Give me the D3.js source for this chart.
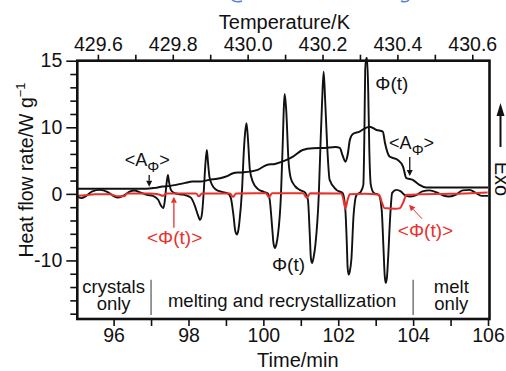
<!DOCTYPE html>
<html><head><meta charset="utf-8">
<script src="https://cdn.jsdelivr.net/npm/d3@7"></script>
<style>
html,body{margin:0;padding:0;background:#fff;}
svg{display:block;font-family:"Liberation Sans",Arial,Helvetica,sans-serif;}
</style></head><body>
<svg id="chart" width="506" height="371"></svg>
<script>
// Modulated heat flow rate Φ(t): [time/min, W g^-1]
const phi = [
  [95.03,-0.37],[95.13,-0.64],[95.27,-0.3],[95.43,0.37],[95.64,0.6],[95.83,0.3],[95.99,-0.3],[96.12,-0.55],[96.28,-0.22],[96.44,0.37],
  [96.55,0.5],[96.71,0.22],[96.89,-0.15],[97.05,-0.3],[97.19,-0.9],[97.27,-1.8],[97.33,-2.15],[97.37,-0.9],[97.41,1.35],[97.45,2.85],
  [97.48,1.8],[97.53,0.6],[97.61,0.15],[97.77,-0.07],[97.93,-0.22],[98.07,-0.6],[98.17,-1.8],[98.25,-3.15],[98.31,-3.9],[98.36,-3.0],
  [98.41,0.6],[98.45,4.35],[98.49,6.6],[98.52,4.8],[98.56,2.55],[98.63,1.35],[98.73,0.67],[98.89,0.3],[99.05,0.07],[99.13,-0.6],
  [99.20,-3.15],[99.25,-5.6],[99.29,-6.1],[99.33,-5.5],[99.36,-4.2],[99.43,0.6],[99.48,6.6],[99.52,9.6],[99.55,10.3],[99.59,8.1],
  [99.64,3.6],[99.72,1.8],[99.85,0.75],[100.01,0.3],[100.12,0.07],[100.17,-0.9],[100.24,-5.4],[100.27,-7.4],[100.31,-8.14],[100.35,-7.5],
  [100.39,-6.14],[100.47,-0.15],[100.52,8.1],[100.55,11.7],[100.57,12.5],[100.61,11.3],[100.67,5.1],[100.73,2.4],[100.84,1.2],[100.97,0.6],
  [101.11,0.22],[101.19,-0.9],[101.24,-6.14],[101.27,-9.7],[101.30,-10.38],[101.34,-9.6],[101.39,-7.64],[101.48,-0.15],[101.53,8.1],[101.57,12.05],
  [101.61,14.17],[101.65,12.05],[101.71,6.6],[101.77,2.1],[101.95,0.6],[102.12,0.1],[102.19,-2.4],[102.23,-7.64],[102.25,-11.0],[102.28,-12.14],
  [102.31,-11.6],[102.35,-9.9],[102.41,-3.15],[102.49,-0.15],[102.60,0.3],[102.67,1.35],[102.70,9.8],[102.72,14.3],[102.75,15.2],[102.77,15.2],
  [102.80,12.8],[102.83,6.6],[102.87,1.35],[102.95,0.15],[103.08,-0.15],[103.16,-2.4],[103.21,-8.4],[103.24,-12.2],[103.27,-13.38],[103.30,-12.6],
  [103.33,-9.9],[103.39,-3.15],[103.44,0.15],[103.55,0.6],[103.67,0.37],[103.77,-0.15],[103.91,-0.4],[104.07,-0.22],[104.25,0.37],[104.44,0.52],
  [104.63,0.22],[104.79,-0.22],[104.97,-0.4],[105.16,-0.07],[105.32,0.52],[105.51,0.6],[105.67,0.15],[105.83,-0.3],[106.0,-0.3]
];

// Amplitude <AΦ>
const ampPhi = [
  [95.03,0.75],[96.87,0.75],[97.11,0.9],[97.31,1.1],[97.51,1.2],[97.67,1.35],[97.91,1.65],[98.11,1.84],[98.31,1.84],[98.55,2.1],
  [98.84,2.35],[99.05,2.7],[99.19,3.1],[99.37,3.22],[99.64,3.34],[99.85,3.6],[100.09,4.35],[100.31,4.5],[100.62,5.1],[100.79,5.6],
  [101.05,6.6],[101.32,6.85],[101.64,6.9],[101.93,7.04],[102.04,6.9],[102.12,5.7],[102.19,4.84],[102.25,5.84],[102.31,8.1],[102.39,9.0],
  [102.57,9.35],[102.71,9.85],[102.84,10.05],[103.02,9.6],[103.19,9.35],[103.25,7.6],[103.37,5.6],[103.59,5.1],[103.73,4.1],[103.82,2.35],
  [103.99,2.1],[104.17,1.35],[104.35,0.95],[104.57,0.95],[106.0,0.95]
];

// Averaged heat flow rate <Φ(t)>
const avgPhi = [
  [95.03,-0.3],[95.24,-0.22],[95.5,-0.07],[95.9,-0.07],[96.12,-0.37],[96.28,-0.37],[96.36,0.07],[96.97,0.07],[97.19,-0.07],[97.32,-0.3],
  [97.4,0.07],[98.2,0.07],[98.28,-0.37],[98.36,0.07],[99.11,0.07],[99.19,-0.45],[99.27,0.07],[100.07,0.1],[100.15,-0.52],[100.23,0.1],
  [101.06,0.1],[101.16,-0.6],[101.25,0.1],[102.08,0.07],[102.14,-0.9],[102.19,-2.25],[102.25,-0.9],[102.31,-0.07],[102.71,0],[103.09,-0.15],
  [103.17,-1.35],[103.23,-2.14],[103.52,-2.25],[103.65,-2.14],[103.73,-1.35],[103.83,-0.15],[104.18,-0.07],[104.98,0],[105.99,0.22]
];

// Tick values
const timeMajor = [96, 98, 100, 102, 104, 106];
const timeMinor = [97, 99, 101, 103, 105];
const tempMajor = [429.6, 429.8, 430.0, 430.2, 430.4, 430.6];
const tempMinor = [429.7, 429.9, 430.1, 430.3, 430.5];
const heatMajor = [-10, 0, 10, 15];
const heatMinor = [-18, -16, -14, -12, -8, -6, -4, -2, 2, 4, 6, 8, 11, 12, 13, 14];

const RED = "#e8302c";
const INK = "#111";

const svg = d3.select("#chart");
const plot = {left: 77.3, right: 489.5, top: 60.7, bottom: 319};

const x = d3.scaleLinear().domain([95.03, 106.04]).range([plot.left, plot.right]);
const xT = d3.scaleLinear().domain([429.545, 430.646]).range([plot.left, plot.right]);
// upper part of the ordinate is compressed above 10 W/g
const y = d3.scaleLinear().domain([-18.8, 10, 15]).range([plot.bottom, 127.3, plot.top]);

function styleAxis(g, size) {
  g.select(".domain").remove();
  g.selectAll(".tick line").attr("stroke", INK).attr("stroke-width", 1.6);
  g.selectAll(".tick text").attr("fill", INK).attr("font-size", size)
    .attr("font-family", '"Liberation Sans",Arial,Helvetica,sans-serif');
}

// bottom time axis
svg.append("g").attr("transform", `translate(0,${plot.bottom})`)
  .call(d3.axisBottom(x).tickValues(timeMajor).tickSize(7).tickPadding(2).tickFormat(d3.format("d")))
  .call(g => styleAxis(g, 19.5));
svg.append("g").attr("transform", `translate(0,${plot.bottom})`)
  .call(d3.axisBottom(x).tickValues(timeMinor).tickSize(7).tickFormat(""))
  .call(g => styleAxis(g, 19.5));

// top temperature axis
svg.append("g").attr("transform", `translate(0,${plot.top})`)
  .call(d3.axisTop(xT).tickValues(tempMajor).tickSize(6).tickPadding(4).tickFormat(d3.format(".1f")))
  .call(g => styleAxis(g, 19.5));
svg.append("g").attr("transform", `translate(0,${plot.top})`)
  .call(d3.axisTop(xT).tickValues(tempMinor).tickSize(6).tickFormat(""))
  .call(g => styleAxis(g, 19.5));

// left heat-flow axis
svg.append("g").attr("transform", `translate(${plot.left},0)`)
  .call(d3.axisLeft(y).tickValues(heatMajor).tickSize(11).tickPadding(4).tickFormat(d => d < 0 ? "-" + Math.abs(d) : String(d)))
  .call(g => styleAxis(g, 19.5));
svg.append("g").attr("transform", `translate(${plot.left},0)`)
  .call(d3.axisLeft(y).tickValues(heatMinor).tickSize(7).tickFormat(""))
  .call(g => styleAxis(g, 19.5));

// axis titles
svg.append("text").attr("x", (plot.left + plot.right) / 2 + 1).attr("y", 29)
  .attr("text-anchor", "middle").attr("font-size", 20).attr("fill", INK).text("Temperature/K");
svg.append("text").attr("x", x(100.92)).attr("y", 367)
  .attr("text-anchor", "middle").attr("font-size", 20).attr("fill", INK).text("Time/min");
const yl = svg.append("text").attr("transform", "translate(33,170) rotate(-90)")
  .attr("text-anchor", "middle").attr("font-size", 19.5).attr("fill", INK);
yl.append("tspan").text("Heat flow rate/W g");
yl.append("tspan").attr("dy", -8).attr("font-size", 13).text("\u22121");

// Exo arrow
svg.append("line").attr("x1", 500.5).attr("x2", 500.5).attr("y1", 147).attr("y2", 112)
  .attr("stroke", INK).attr("stroke-width", 2);
svg.append("path").attr("d", "M500.5,103 L496.5,116 L504.5,116 Z").attr("fill", INK);
svg.append("text").attr("transform", "translate(494.5,179) rotate(90)")
  .attr("text-anchor", "middle").attr("font-size", 20).attr("fill", INK).text("Exo");

// small blue fragments along the top edge
svg.append("path").attr("d", "M232,0 Q236,3 242,1").attr("fill", "none").attr("stroke", "#5b84d6").attr("stroke-width", 1.5);
svg.append("path").attr("d", "M401,1 Q406,3 409,0").attr("fill", "none").attr("stroke", "#5b84d6").attr("stroke-width", 1.5);

// curves
const line = d3.line().x(d => x(d[0])).y(d => y(d[1])).curve(d3.curveMonotoneX);
svg.append("path").datum(ampPhi).attr("d", line).attr("fill", "none")
  .attr("stroke", INK).attr("stroke-width", 2).attr("stroke-linejoin", "round");
svg.append("path").datum(phi).attr("d", line).attr("fill", "none")
  .attr("stroke", INK).attr("stroke-width", 1.9).attr("stroke-linejoin", "round");
svg.append("path").datum(avgPhi).attr("d", line).attr("fill", "none")
  .attr("stroke", RED).attr("stroke-width", 2).attr("stroke-linejoin", "round");

// frame
svg.append("rect").attr("x", plot.left).attr("y", plot.top)
  .attr("width", plot.right - plot.left).attr("height", plot.bottom - plot.top)
  .attr("fill", "none").attr("stroke", INK).attr("stroke-width", 2.6);

// region separators and labels
[97, 104].forEach(t => {
  svg.append("line").attr("x1", x(t)).attr("x2", x(t)).attr("y1", y(-12.9)).attr("y2", y(-18.2))
    .attr("stroke", "#555").attr("stroke-width", 1.2);
});
function label(txt, t, v, opts = {}) {
  return svg.append("text").attr("x", x(t)).attr("y", y(v))
    .attr("text-anchor", "middle").attr("font-size", opts.size || 18.5)
    .attr("fill", opts.color || INK).text(txt);
}
label("crystals", 96, -14.85);
label("only", 96, -17.45);
label("melting and recrystallization", 100.5, -17.05);
label("melt", 105.02, -14.85);
label("only", 105.02, -17.45);

// annotations
label("\u03A6(t)", 103.43, 12.8, {size: 19});
label("\u03A6(t)", 100.67, -11.6, {size: 19});
label("<\u03A6(t)>", 97.63, -7.5, {size: 19, color: RED});
label("<\u03A6(t)>", 104.33, -6.5, {size: 19, color: RED});

function ampLabel(t, v) {
  const tx = svg.append("text").attr("x", x(t)).attr("y", y(v))
    .attr("text-anchor", "middle").attr("font-size", 18).attr("fill", INK);
  tx.append("tspan").text("<A");
  tx.append("tspan").attr("dy", 6).attr("font-size", 15).text("\u03A6");
  tx.append("tspan").attr("dy", -6).text(">");
}
ampLabel(96.9, 4.2);
ampLabel(103.96, 6.75);

function arrow(t1, v1, t2, v2, color, width) {
  const x1 = x(t1), y1 = y(v1), x2 = x(t2), y2 = y(v2);
  const a = Math.atan2(y2 - y1, x2 - x1), L = 6, Wd = 3;
  const bx = x2 - L * Math.cos(a), by = y2 - L * Math.sin(a);
  svg.append("line").attr("x1", x1).attr("y1", y1).attr("x2", bx).attr("y2", by)
    .attr("stroke", color).attr("stroke-width", width);
  svg.append("path").attr("d",
    `M${x2},${y2} L${bx + Wd * Math.sin(a)},${by - Wd * Math.cos(a)} L${bx - Wd * Math.sin(a)},${by + Wd * Math.cos(a)} Z`)
    .attr("fill", color);
}
arrow(96.95, 2.85, 96.95, 1.05, INK, 1.3);
arrow(103.91, 5.55, 103.91, 2.7, INK, 1.3);
arrow(97.61, -5.1, 97.61, -0.45, RED, 1.3);
arrow(104.24, -3.75, 103.89, -1.65, RED, 1);
</script>
</body></html>
